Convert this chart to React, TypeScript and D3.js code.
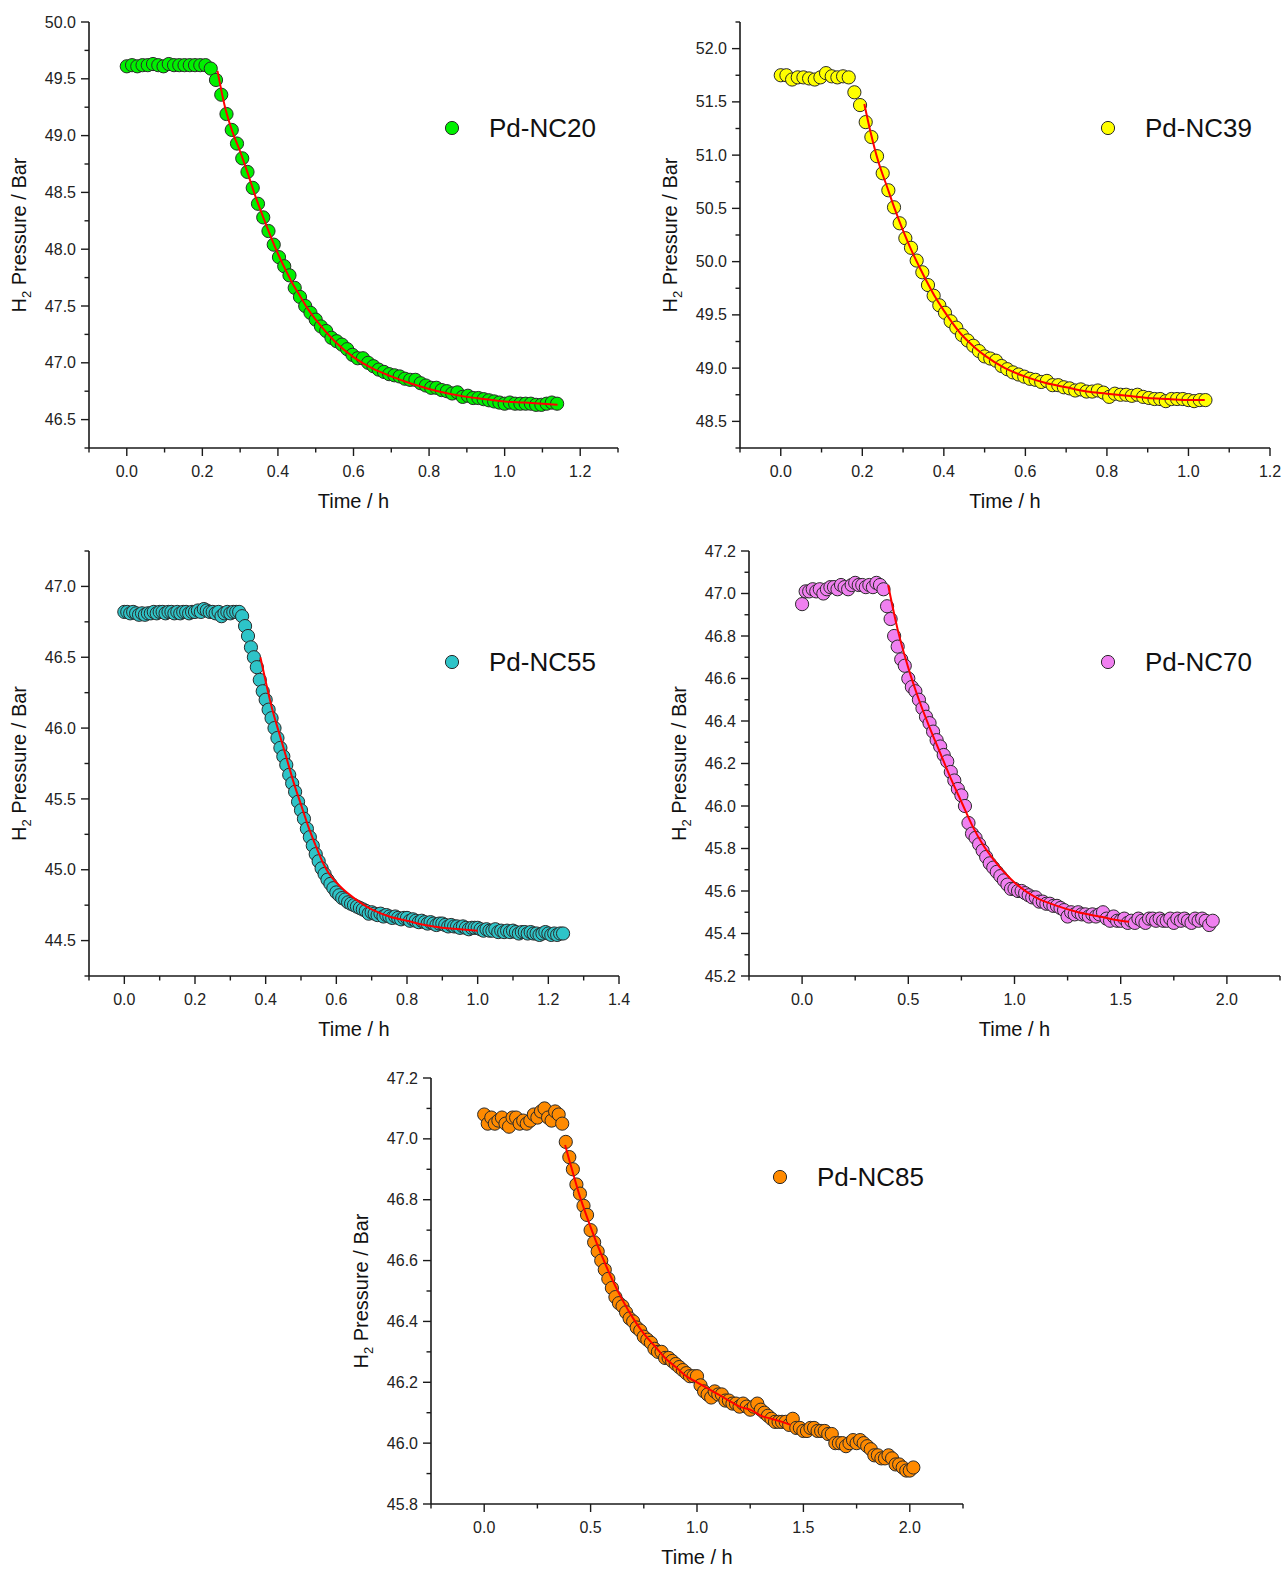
import React from 'react';
import * as d3 from 'd3';

// ---------- DATA ----------
// Pd-NC20 : sampling interval (h) and pressures (bar)
const NC20_DT = 1 / 72;
const NC20_P = [
  49.61, 49.62, 49.61, 49.62, 49.62, 49.63, 49.62, 49.61, 49.63, 49.62,
  49.62, 49.62, 49.62, 49.62, 49.62, 49.62, 49.59, 49.49, 49.36, 49.19,
  49.05, 48.93, 48.80, 48.68, 48.54, 48.40, 48.28, 48.16, 48.04, 47.93,
  47.85, 47.77, 47.66, 47.58, 47.50, 47.44, 47.38, 47.32, 47.28, 47.22,
  47.19, 47.16, 47.12, 47.07, 47.04, 47.04, 47.00, 46.97, 46.94, 46.92,
  46.90, 46.89, 46.88, 46.86, 46.85, 46.85, 46.82, 46.80, 46.78, 46.78,
  46.76, 46.75, 46.73, 46.74, 46.70, 46.71, 46.69, 46.69, 46.68, 46.67,
  46.66, 46.65, 46.64, 46.65, 46.64, 46.64, 46.64, 46.64, 46.63, 46.63,
  46.64, 46.65, 46.64,
];
const NC20_FIT_T = [0.24, 0.26, 0.28, 0.30, 0.32, 0.34, 0.36, 0.38, 0.40, 0.42, 0.44, 0.46, 0.48, 0.50, 0.55, 0.60, 0.65, 0.70, 0.75, 0.80, 0.85, 0.90, 0.95, 1.00, 1.05, 1.10, 1.14];
const NC20_FIT_P = [49.57, 49.25, 49.03, 48.86, 48.67, 48.47, 48.29, 48.12, 47.96, 47.82, 47.69, 47.58, 47.47, 47.38, 47.19, 47.05, 46.95, 46.88, 46.82, 46.77, 46.73, 46.70, 46.68, 46.66, 46.65, 46.64, 46.63];

// Pd-NC39
const NC39_DT = 1 / 72;
const NC39_P = [
  51.75, 51.75, 51.71, 51.73, 51.73, 51.72, 51.71, 51.73, 51.77, 51.74,
  51.73, 51.74, 51.73, 51.59, 51.47, 51.31, 51.17, 50.99, 50.83, 50.67,
  50.51, 50.36, 50.22, 50.13, 50.01, 49.90, 49.78, 49.68, 49.59, 49.52,
  49.44, 49.38, 49.31, 49.26, 49.21, 49.16, 49.11, 49.09, 49.07, 49.02,
  48.99, 48.96, 48.94, 48.92, 48.90, 48.89, 48.87, 48.88, 48.84, 48.84,
  48.82, 48.81, 48.79, 48.80, 48.78, 48.78, 48.79, 48.77, 48.73, 48.76,
  48.75, 48.75, 48.74, 48.75, 48.73, 48.72, 48.71, 48.71, 48.69, 48.71,
  48.71, 48.71, 48.70, 48.69, 48.70, 48.70,
];
const NC39_FIT_T = [0.205, 0.22, 0.24, 0.26, 0.28, 0.30, 0.32, 0.34, 0.36, 0.38, 0.40, 0.42, 0.44, 0.46, 0.48, 0.50, 0.55, 0.60, 0.65, 0.70, 0.75, 0.80, 0.85, 0.90, 0.95, 1.00, 1.04];
const NC39_FIT_P = [51.48, 51.22, 50.93, 50.71, 50.49, 50.29, 50.11, 49.95, 49.80, 49.66, 49.54, 49.43, 49.33, 49.25, 49.18, 49.12, 49.00, 48.92, 48.86, 48.82, 48.78, 48.76, 48.74, 48.72, 48.71, 48.70, 48.70];

// Pd-NC55
const NC55_DT = 1 / 120;
const NC55_P = [
  46.82, 46.82, 46.81, 46.82, 46.81, 46.80, 46.81, 46.80, 46.81, 46.81,
  46.82, 46.81, 46.82, 46.82, 46.81, 46.82, 46.82, 46.81, 46.82, 46.81,
  46.82, 46.82, 46.81, 46.82, 46.82, 46.83, 46.82, 46.84, 46.83, 46.82,
  46.82, 46.81, 46.82, 46.79, 46.81, 46.82, 46.81, 46.82, 46.82, 46.82,
  46.79, 46.72, 46.65, 46.57, 46.50, 46.43, 46.34, 46.26, 46.20, 46.13,
  46.07, 46.00, 45.93, 45.86, 45.80, 45.74, 45.67, 45.61, 45.55, 45.48,
  45.42, 45.36, 45.29, 45.23, 45.17, 45.11, 45.06, 45.01, 44.97, 44.93,
  44.90, 44.87, 44.84, 44.82, 44.80, 44.79, 44.77, 44.76, 44.75, 44.74,
  44.73, 44.72, 44.71, 44.69, 44.70, 44.69, 44.68, 44.69, 44.67, 44.68,
  44.67, 44.66, 44.67, 44.66, 44.65, 44.66, 44.66, 44.64, 44.65, 44.64,
  44.63, 44.64, 44.63, 44.62, 44.63, 44.62, 44.61, 44.62, 44.62, 44.61,
  44.60, 44.61, 44.60, 44.60, 44.59, 44.60, 44.59, 44.58, 44.59, 44.59,
  44.59, 44.58, 44.57, 44.58, 44.57, 44.57, 44.58, 44.56, 44.57, 44.56,
  44.57, 44.56, 44.57, 44.56, 44.55, 44.56, 44.56, 44.55, 44.56, 44.55,
  44.55, 44.54, 44.55, 44.56, 44.55, 44.54, 44.55, 44.54, 44.55, 44.55,
];
const NC55_FIT_T = [0.385, 0.40, 0.42, 0.44, 0.46, 0.48, 0.50, 0.52, 0.54, 0.56, 0.58, 0.60, 0.62, 0.65, 0.70, 0.75, 0.80, 0.85, 0.90, 0.95, 1.00];
const NC55_FIT_P = [46.50, 46.33, 46.12, 45.95, 45.78, 45.61, 45.46, 45.31, 45.18, 45.06, 44.97, 44.91, 44.86, 44.80, 44.72, 44.67, 44.64, 44.61, 44.59, 44.58, 44.57];

// Pd-NC70
const NC70_DT = 1 / 60;
const NC70_P = [
  46.95, 47.01, 47.01, 47.02, 47.01, 47.02, 47.00, 47.02, 47.03, 47.03,
  47.02, 47.04, 47.03, 47.02, 47.04, 47.05, 47.04, 47.04, 47.03, 47.04,
  47.03, 47.05, 47.04, 47.02, 46.94, 46.88, 46.80, 46.75, 46.69, 46.66,
  46.60, 46.56, 46.54, 46.50, 46.46, 46.42, 46.39, 46.35, 46.31, 46.28,
  46.24, 46.21, 46.16, 46.12, 46.08, 46.05, 46.00, 45.92, 45.87, 45.85,
  45.82, 45.79, 45.76, 45.73, 45.71, 45.69, 45.67, 45.65, 45.63, 45.61,
  45.61, 45.60, 45.60, 45.59, 45.58, 45.57, 45.57, 45.55, 45.55, 45.54,
  45.54, 45.53, 45.53, 45.52, 45.51, 45.48, 45.50, 45.49, 45.50, 45.49,
  45.49, 45.48, 45.49, 45.48, 45.49, 45.50, 45.47, 45.46, 45.48, 45.46,
  45.46, 45.47, 45.45, 45.46, 45.45, 45.47, 45.46, 45.45, 45.47, 45.47,
  45.46, 45.47, 45.46, 45.46, 45.47, 45.45, 45.47, 45.46, 45.47, 45.46,
  45.45, 45.47, 45.46, 45.47, 45.46, 45.44, 45.46,
];
const NC70_FIT_T = [0.405, 0.45, 0.50, 0.55, 0.60, 0.65, 0.70, 0.75, 0.80, 0.85, 0.90, 0.95, 1.00, 1.10, 1.20, 1.30, 1.40, 1.50, 1.54];
const NC70_FIT_P = [47.04, 46.83, 46.65, 46.50, 46.37, 46.25, 46.13, 46.02, 45.91, 45.82, 45.75, 45.69, 45.64, 45.57, 45.53, 45.50, 45.48, 45.46, 45.455];

// Pd-NC85
const NC85_DT = 1 / 60;
const NC85_P = [
  47.08, 47.05, 47.07, 47.05, 47.06, 47.07, 47.05, 47.04, 47.07, 47.07,
  47.05, 47.06, 47.05, 47.06, 47.08, 47.07, 47.09, 47.10, 47.07, 47.06,
  47.09, 47.08, 47.05, 46.99, 46.94, 46.90, 46.85, 46.82, 46.78, 46.75,
  46.70, 46.66, 46.63, 46.60, 46.57, 46.54, 46.51, 46.48, 46.46, 46.45,
  46.43, 46.41, 46.40, 46.38, 46.37, 46.35, 46.34, 46.33, 46.31, 46.30,
  46.30, 46.28, 46.28, 46.27, 46.26, 46.25, 46.24, 46.23, 46.22, 46.22,
  46.22, 46.19, 46.17, 46.16, 46.15, 46.17, 46.16, 46.16, 46.14, 46.14,
  46.13, 46.13, 46.12, 46.13, 46.12, 46.11, 46.12, 46.13, 46.11, 46.10,
  46.09, 46.08, 46.07, 46.07, 46.07, 46.07, 46.06, 46.08, 46.05, 46.05,
  46.04, 46.04, 46.05, 46.05, 46.04, 46.04, 46.04, 46.03, 46.03, 46.00,
  46.00, 46.00, 45.99, 46.00, 46.01, 46.00, 46.01, 46.00, 45.99, 45.98,
  45.96, 45.96, 45.95, 45.95, 45.96, 45.95, 45.93, 45.93, 45.92, 45.91,
  45.91, 45.92,
];
const NC85_FIT_T = [0.38, 0.40, 0.45, 0.50, 0.55, 0.60, 0.65, 0.70, 0.75, 0.80, 0.85, 0.90, 0.95, 1.00, 1.05, 1.10, 1.15, 1.20, 1.25, 1.30, 1.35, 1.40, 1.44];
const NC85_FIT_P = [46.98, 46.93, 46.81, 46.71, 46.62, 46.54, 46.47, 46.41, 46.36, 46.32, 46.28, 46.25, 46.22, 46.20, 46.18, 46.16, 46.14, 46.12, 46.11, 46.09, 46.08, 46.07, 46.06];

const X_TITLE = 'Time / h';
const Y_TITLE_MAIN = 'H';
const Y_TITLE_SUB = '2';
const Y_TITLE_REST = ' Pressure / Bar';

// ---------- LAYOUT ----------
const FONT = '"Liberation Sans", Arial, Helvetica, sans-serif';

type PanelCfg = {
  name: string;
  color: string;
  dt: number;
  p: number[];
  fitT: number[];
  fitP: number[];
  frame: { l: number; r: number; t: number; b: number };
  xDom: [number, number];
  xMajor: number;
  xMinor: number;
  yDom: [number, number];
  yMajor: number;
  yMinor: number;
  legend: { x: number; y: number };
};

const panels: PanelCfg[] = [
  {
    name: 'Pd-NC20', color: '#00f000', dt: NC20_DT, p: NC20_P, fitT: NC20_FIT_T, fitP: NC20_FIT_P,
    frame: { l: 89, r: 618, t: 22, b: 448 }, xDom: [-0.1, 1.3], xMajor: 0.2, xMinor: 0.1,
    yDom: [46.25, 50.0], yMajor: 0.5, yMinor: 0.25, legend: { x: 452, y: 128 },
  },
  {
    name: 'Pd-NC39', color: '#ffff00', dt: NC39_DT, p: NC39_P, fitT: NC39_FIT_T, fitP: NC39_FIT_P,
    frame: { l: 740, r: 1270, t: 22, b: 448 }, xDom: [-0.1, 1.2], xMajor: 0.2, xMinor: 0.1,
    yDom: [48.25, 52.25], yMajor: 0.5, yMinor: 0.25, legend: { x: 1108, y: 128 },
  },
  {
    name: 'Pd-NC55', color: '#2ec4c8', dt: NC55_DT, p: NC55_P, fitT: NC55_FIT_T, fitP: NC55_FIT_P,
    frame: { l: 89, r: 619, t: 551, b: 976 }, xDom: [-0.1, 1.4], xMajor: 0.2, xMinor: 0.1,
    yDom: [44.25, 47.25], yMajor: 0.5, yMinor: 0.25, legend: { x: 452, y: 662 },
  },
  {
    name: 'Pd-NC70', color: '#f080f0', dt: NC70_DT, p: NC70_P, fitT: NC70_FIT_T, fitP: NC70_FIT_P,
    frame: { l: 749, r: 1280, t: 551, b: 976 }, xDom: [-0.25, 2.25], xMajor: 0.5, xMinor: 0.25,
    yDom: [45.2, 47.2], yMajor: 0.2, yMinor: 0.1, legend: { x: 1108, y: 662 },
  },
  {
    name: 'Pd-NC85', color: '#ff8a00', dt: NC85_DT, p: NC85_P, fitT: NC85_FIT_T, fitP: NC85_FIT_P,
    frame: { l: 431, r: 963, t: 1078, b: 1504 }, xDom: [-0.25, 2.25], xMajor: 0.5, xMinor: 0.25,
    yDom: [45.8, 47.2], yMajor: 0.2, yMinor: 0.1, legend: { x: 780, y: 1177 },
  },
];

function stepValues(dom: [number, number], step: number): number[] {
  const out: number[] = [];
  const k0 = Math.ceil(dom[0] / step - 1e-6);
  const k1 = Math.floor(dom[1] / step + 1e-6);
  for (let k = k0; k <= k1; k++) out.push(+(k * step).toFixed(6));
  return out;
}

function isMultiple(v: number, step: number) {
  const r = v / step;
  return Math.abs(r - Math.round(r)) < 1e-6;
}

const fmt = d3.format('.1f');

function Panel({ cfg }: { cfg: PanelCfg }) {
  const { frame } = cfg;
  const x = d3.scaleLinear().domain(cfg.xDom).range([frame.l, frame.r]);
  const y = d3.scaleLinear().domain(cfg.yDom).range([frame.b, frame.t]);

  const xMaj = stepValues(cfg.xDom, cfg.xMajor);
  const xMin = stepValues(cfg.xDom, cfg.xMinor).filter((v) => !isMultiple(v, cfg.xMajor));
  const yMaj = stepValues(cfg.yDom, cfg.yMajor);
  const yMin = stepValues(cfg.yDom, cfg.yMinor).filter((v) => !isMultiple(v, cfg.yMajor));

  const pts = cfg.p.map((v, i) => [i * cfg.dt, v] as [number, number]);
  const fit = cfg.fitT.map((t, i) => [t, cfg.fitP[i]] as [number, number]);
  const line = d3
    .line<[number, number]>()
    .x((d) => x(d[0]))
    .y((d) => y(d[1]))
    .curve(d3.curveMonotoneX);

  const axisColor = '#1a1a1a';
  const cx = (frame.l + frame.r) / 2;
  const cy = (frame.t + frame.b) / 2;
  const yTitleX = frame.l - 63;

  return (
    <g>
      {/* axes */}
      <line x1={frame.l} x2={frame.l} y1={frame.t} y2={frame.b} stroke={axisColor} strokeWidth={1.6} />
      <line x1={frame.l} x2={frame.r} y1={frame.b} y2={frame.b} stroke={axisColor} strokeWidth={1.6} />
      {xMaj.map((v) => (
        <line key={'xM' + v} x1={x(v)} x2={x(v)} y1={frame.b} y2={frame.b + 8} stroke={axisColor} strokeWidth={1.4} />
      ))}
      {xMin.map((v) => (
        <line key={'xm' + v} x1={x(v)} x2={x(v)} y1={frame.b} y2={frame.b + 4.5} stroke={axisColor} strokeWidth={1.4} />
      ))}
      {yMaj.map((v) => (
        <line key={'yM' + v} x1={frame.l - 8} x2={frame.l} y1={y(v)} y2={y(v)} stroke={axisColor} strokeWidth={1.4} />
      ))}
      {yMin.map((v) => (
        <line key={'ym' + v} x1={frame.l - 4.5} x2={frame.l} y1={y(v)} y2={y(v)} stroke={axisColor} strokeWidth={1.4} />
      ))}
      {xMaj.map((v) => (
        <text key={'xl' + v} x={x(v)} y={frame.b + 29} textAnchor="middle" fontSize={16} fill="#222" fontFamily={FONT}>
          {fmt(v)}
        </text>
      ))}
      {yMaj.map((v) => (
        <text key={'yl' + v} x={frame.l - 13} y={y(v) + 5.6} textAnchor="end" fontSize={16} fill="#222" fontFamily={FONT}>
          {fmt(v)}
        </text>
      ))}
      <text x={cx} y={frame.b + 60} textAnchor="middle" fontSize={20} fill="#111" fontFamily={FONT}>
        {X_TITLE}
      </text>
      <g transform={`translate(${yTitleX}, ${cy}) rotate(-90)`}>
        <text x={0} y={0} textAnchor="middle" fontSize={20} fill="#111" fontFamily={FONT}>
          {Y_TITLE_MAIN}
          <tspan fontSize={13} dy={5}>
            {Y_TITLE_SUB}
          </tspan>
          <tspan dy={-5}>{Y_TITLE_REST}</tspan>
        </text>
      </g>

      {/* data points */}
      <g>
        {pts.map((d, i) => (
          <circle key={i} cx={x(d[0])} cy={y(d[1])} r={6.6} fill={cfg.color} stroke="#2a2a2a" strokeWidth={1} />
        ))}
      </g>
      {/* fit */}
      <path d={line(fit) || ''} fill="none" stroke="#ff0000" strokeWidth={2} />

      {/* legend */}
      <circle cx={cfg.legend.x} cy={cfg.legend.y} r={6.6} fill={cfg.color} stroke="#2a2a2a" strokeWidth={1} />
      <text x={cfg.legend.x + 37} y={cfg.legend.y + 9.3} fontSize={26} fill="#111" fontFamily={FONT}>
        {cfg.name}
      </text>
    </g>
  );
}

export default function App() {
  return (
    <svg
      width={1284}
      height={1571}
      viewBox="0 0 1284 1571"
      style={{ position: 'absolute', left: 0, top: 0, background: '#fff' }}
    >
      <rect x={0} y={0} width={1284} height={1571} fill="#fff" />
      {panels.map((p) => (
        <Panel key={p.name} cfg={p} />
      ))}
    </svg>
  );
}
